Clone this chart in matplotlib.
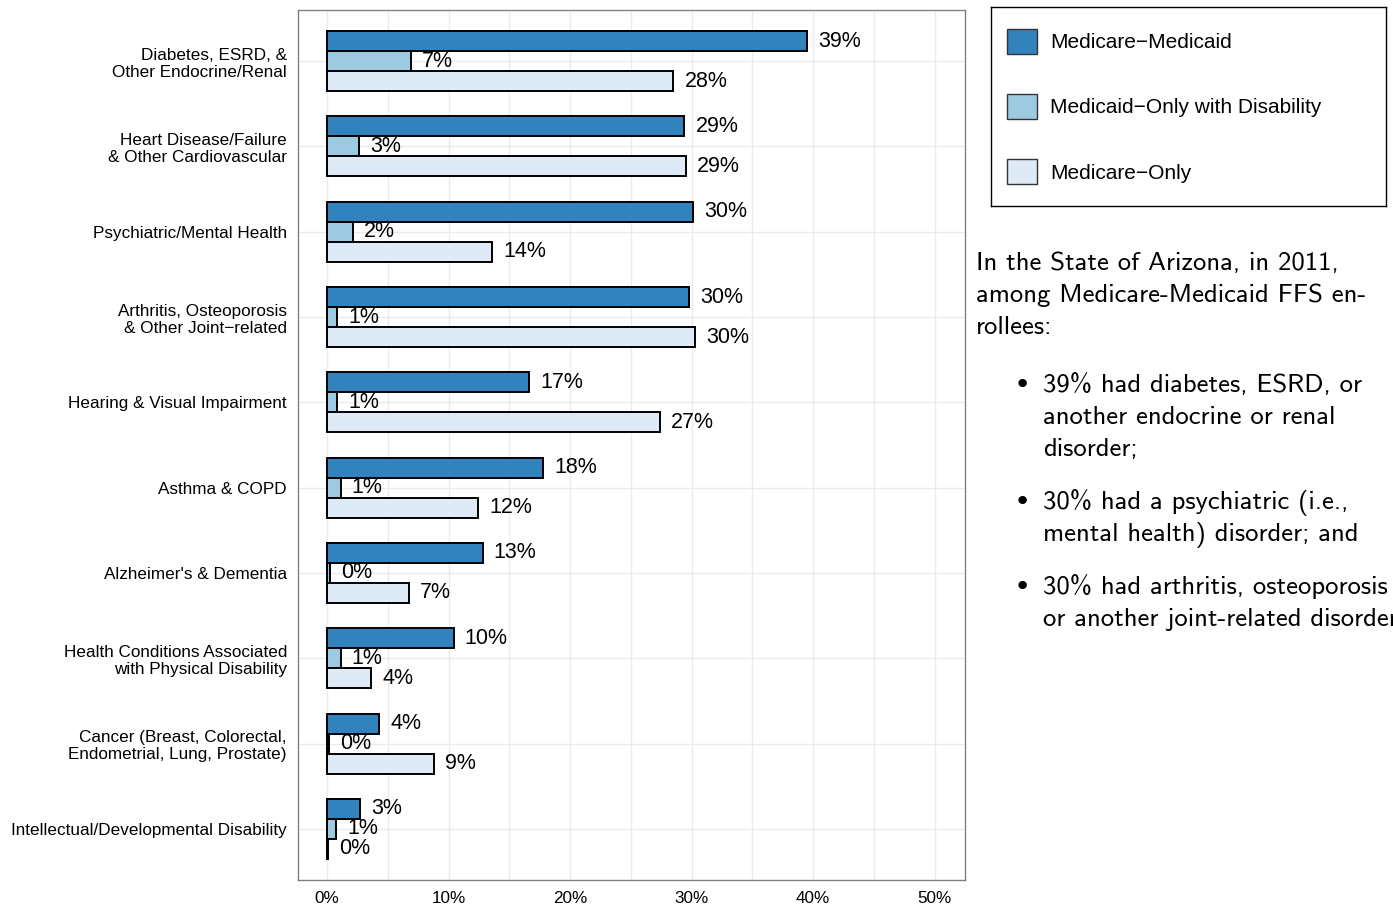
import matplotlib

matplotlib.use("Agg")
import matplotlib.pyplot as plt
import numpy as np
from matplotlib.patches import Patch

# ── data ────────────────────────────────────────────────────────────────
conditions = [
    "Diabetes, ESRD, &\nOther Endocrine/Renal",
    "Heart Disease/Failure\n& Other Cardiovascular",
    "Psychiatric/Mental Health",
    "Arthritis, Osteoporosis\n& Other Joint\u2212related",
    "Hearing & Visual Impairment",
    "Asthma & COPD",
    "Alzheimer's & Dementia",
    "Health Conditions Associated\nwith Physical Disability",
    "Cancer (Breast, Colorectal,\nEndometrial, Lung, Prostate)",
    "Intellectual/Developmental Disability",
]
groups = ["Medicare\u2212Medicaid", "Medicaid\u2212Only with Disability", "Medicare\u2212Only"]
medicare_medicaid = [39.5, 29.4, 30.1, 29.8, 16.6, 17.8, 12.8, 10.4, 4.3, 2.7]
medicaid_only_dis = [6.9, 2.6, 2.1, 0.8, 0.8, 1.1, 0.25, 1.1, 0.16, 0.75]
medicare_only = [28.5, 29.5, 13.6, 30.3, 27.4, 12.4, 6.7, 3.6, 8.8, 0.1]
# printed labels (rounded in the source, kept as shown)
lab_medicare_medicaid = [39, 29, 30, 30, 17, 18, 13, 10, 4, 3]
lab_medicaid_only_dis = [7, 3, 2, 1, 1, 1, 0, 1, 0, 1]
lab_medicare_only = [28, 29, 14, 30, 27, 12, 7, 4, 9, 0]
colors = ["#3182bd", "#9ecae1", "#deebf7"]
xticks = [0, 10, 20, 30, 40, 50]

text_intro = [
    "In the State of Arizona, in 2011,",
    "among Medicare-Medicaid FFS en-",
    "rollees:",
]
bullets = [
    ["39% had diabetes, ESRD, or", "another endocrine or renal", "disorder;"],
    ["30% had a psychiatric (i.e.,", "mental health) disorder; and"],
    ["30% had arthritis, osteoporosis", "or another joint-related disorder."],
]

W, H = 1393, 909
fig = plt.figure(figsize=(W / 100, H / 100), dpi=100)


def fx(px):
    return px / W


def fy(py):
    return 1 - py / H


ax = fig.add_axes([fx(298), fy(880), fx(965 - 298), (880 - 10) / H])

y = np.arange(len(conditions))
bh = 0.2345
series = [medicare_medicaid, medicaid_only_dis, medicare_only]
labels = [lab_medicare_medicaid, lab_medicaid_only_dis, lab_medicare_only]
for k, (vals, labs, col) in enumerate(zip(series, labels, colors)):
    pos = y + (k - 1) * bh
    ax.barh(pos, vals, height=bh, color=col, edgecolor="black", linewidth=1.4, zorder=3)
    for p, v, l in zip(pos, vals, labs):
        ax.annotate(f"{l}%", xy=(v, p), xytext=(8, 0), textcoords="offset points",
                    ha="left", va="center", fontsize=15.5, family="Liberation Sans", zorder=4)

ax.set_xlim(-2.4, 52.5)
ax.set_ylim(9.6, -0.6)
ax.set_xticks(xticks)
ax.set_xticks(np.arange(5, 55, 10), minor=True)
ax.set_xticklabels([f"{t}%" for t in xticks], family="Liberation Sans", fontsize=12.3)
ax.set_yticks(y)
ax.set_yticklabels(conditions, family="Liberation Sans", fontsize=12.3, linespacing=1.2)
ax.tick_params(axis="both", which="both", length=0)
ax.tick_params(axis="y", pad=8)
ax.tick_params(axis="x", pad=8)
ax.grid(True, which="both", axis="x", color="#ebebeb", linewidth=1, zorder=0)
ax.grid(True, which="major", axis="y", color="#ebebeb", linewidth=1, zorder=0)
ax.set_axisbelow(True)
for s in ax.spines.values():
    s.set_color("#808080")
    s.set_linewidth(1)

# ── legend box ──────────────────────────────────────────────────────────
lax = fig.add_axes([fx(991), fy(206), fx(1386 - 991), (206 - 7) / H])
lax.set_xticks([])
lax.set_yticks([])
for s in lax.spines.values():
    s.set_color("black")
    s.set_linewidth(1)
handles = [Patch(facecolor=c, edgecolor="#333333", linewidth=1) for c in colors]
lax.legend(handles, groups, loc="center left", frameon=False,
           prop={"family": "Liberation Sans", "size": 15},
           handlelength=1.45, handleheight=1.45, labelspacing=1.95,
           handletextpad=0.62, borderaxespad=0.35)

# ── side text ───────────────────────────────────────────────────────────
tfont = dict(family=["cmss10", "DejaVu Sans"], fontsize=19.2, va="baseline")
yy = 270
for line in text_intro:
    fig.text(fx(976), fy(yy), line, **tfont)
    yy += 32
yy = 392
for item in bullets:
    fig.text(fx(1014), fy(yy + 1), "\u2022", family="DejaVu Sans", fontsize=21, va="baseline")
    for line in item:
        fig.text(fx(1043), fy(yy), line, **tfont)
        yy += 32
    yy += 21

fig.savefig("out.png", dpi=100)
